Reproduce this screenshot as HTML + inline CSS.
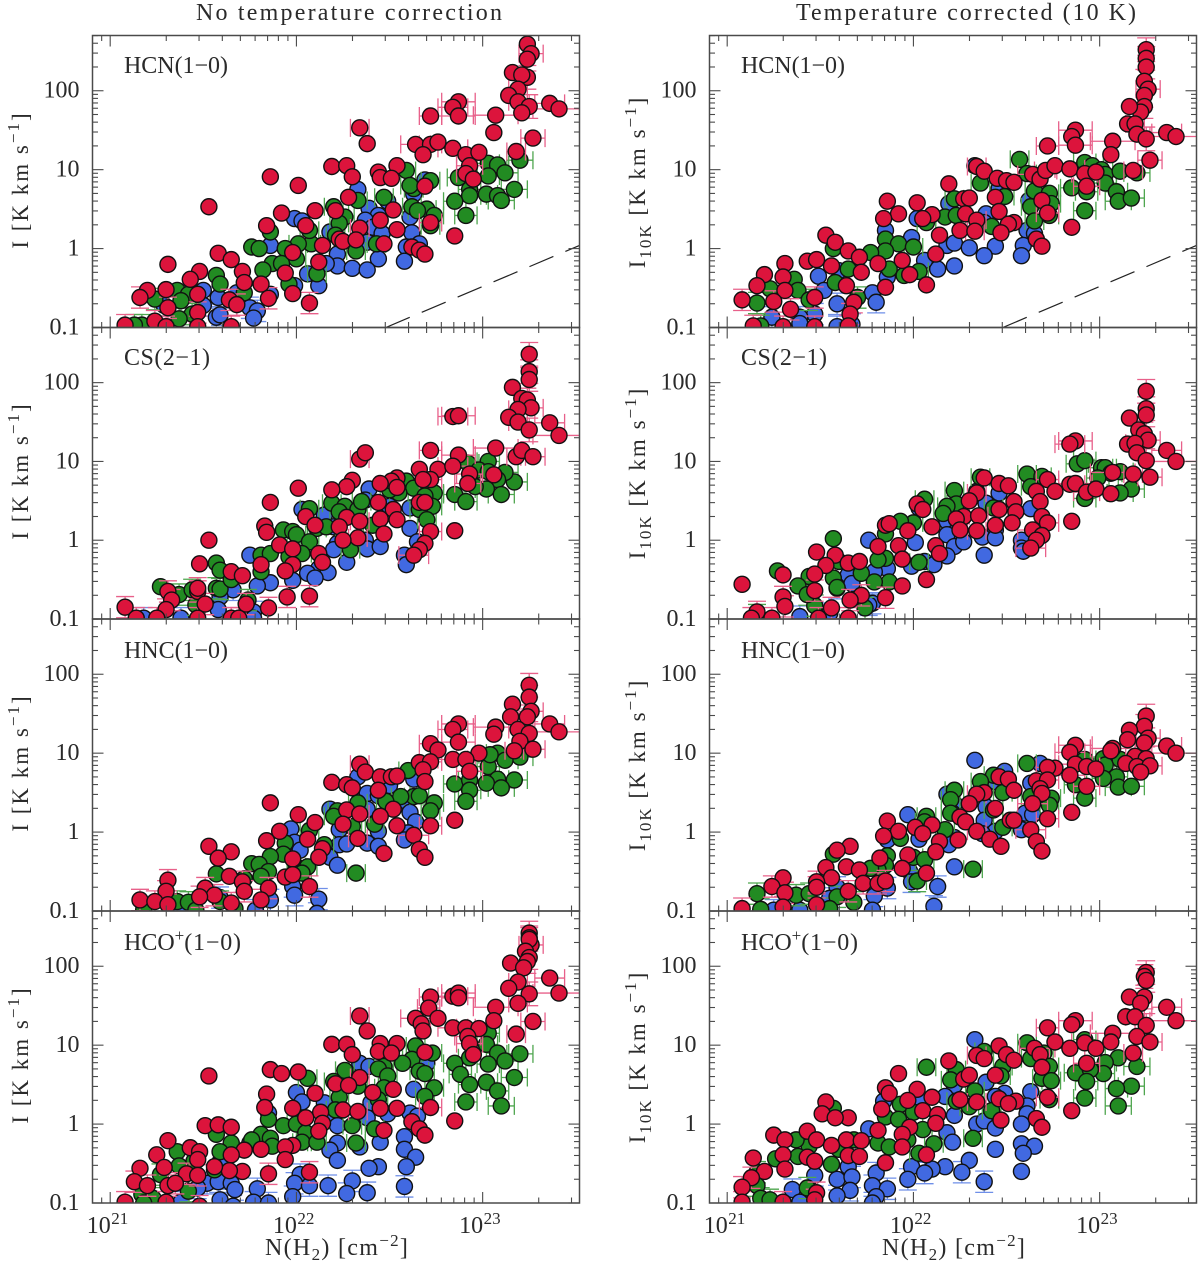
<!DOCTYPE html>
<html lang="en">
<head>
<meta charset="utf-8">
<title>Line intensity versus H2 column density</title>
<style>
html,body{margin:0;padding:0;background:#fff;}
svg{display:block;}
text{font-family:"Liberation Serif",serif;fill:#2a2a2a;}
.title{font-size:24px;}
.plabel{font-size:24px;}
.ylab{font-size:23px;letter-spacing:2px;text-anchor:middle;}
.xlab{font-size:24px;}
.tick{font-size:24px;}
.sup{font-size:17px;}
</style>
</head>
<body>
<svg id="chart" xmlns="http://www.w3.org/2000/svg" width="1200" height="1264" viewBox="0 0 1200 1264">
<rect x="0" y="0" width="1200" height="1264" fill="#fff"/>
<g id="plots"></g>
<text class="title" x="196" y="20" textLength="306" lengthAdjust="spacing">No temperature correction</text>
<text class="title" x="796" y="20" textLength="340" lengthAdjust="spacing">Temperature corrected (10 K)</text>

<text class="plabel" x="124" y="73" textLength="104" lengthAdjust="spacing">HCN(1−0)</text>
<text class="plabel" x="124" y="365" textLength="86" lengthAdjust="spacing">CS(2−1)</text>
<text class="plabel" x="124" y="658" textLength="104" lengthAdjust="spacing">HNC(1−0)</text>
<text class="plabel" x="124" y="950">HCO<tspan class="sup" dy="-9">+</tspan><tspan dy="9" letter-spacing="0.8">(1−0)</tspan></text>
<text class="plabel" x="741" y="73" textLength="104" lengthAdjust="spacing">HCN(1−0)</text>
<text class="plabel" x="741" y="365" textLength="86" lengthAdjust="spacing">CS(2−1)</text>
<text class="plabel" x="741" y="658" textLength="104" lengthAdjust="spacing">HNC(1−0)</text>
<text class="plabel" x="741" y="950">HCO<tspan class="sup" dy="-9">+</tspan><tspan dy="9" letter-spacing="0.8">(1−0)</tspan></text>

<text class="ylab" transform="translate(28,180) rotate(-90)">I [K km s<tspan class="sup" dy="-9">−1</tspan><tspan dy="9">]</tspan></text>
<text class="ylab" transform="translate(28,471) rotate(-90)">I [K km s<tspan class="sup" dy="-9">−1</tspan><tspan dy="9">]</tspan></text>
<text class="ylab" transform="translate(28,763) rotate(-90)">I [K km s<tspan class="sup" dy="-9">−1</tspan><tspan dy="9">]</tspan></text>
<text class="ylab" transform="translate(28,1055) rotate(-90)">I [K km s<tspan class="sup" dy="-9">−1</tspan><tspan dy="9">]</tspan></text>
<text class="ylab" transform="translate(645,182) rotate(-90)">I<tspan class="sup" dy="6">10K</tspan><tspan dy="-6"> [K km s</tspan><tspan class="sup" dy="-9">−1</tspan><tspan dy="9">]</tspan></text>
<text class="ylab" transform="translate(645,473) rotate(-90)">I<tspan class="sup" dy="6">10K</tspan><tspan dy="-6"> [K km s</tspan><tspan class="sup" dy="-9">−1</tspan><tspan dy="9">]</tspan></text>
<text class="ylab" transform="translate(645,765) rotate(-90)">I<tspan class="sup" dy="6">10K</tspan><tspan dy="-6"> [K km s</tspan><tspan class="sup" dy="-9">−1</tspan><tspan dy="9">]</tspan></text>
<text class="ylab" transform="translate(645,1057) rotate(-90)">I<tspan class="sup" dy="6">10K</tspan><tspan dy="-6"> [K km s</tspan><tspan class="sup" dy="-9">−1</tspan><tspan dy="9">]</tspan></text>

<text class="xlab" x="265" y="1255" letter-spacing="1.3">N(H<tspan class="sup" dy="5">2</tspan><tspan dy="-5">) [cm</tspan><tspan class="sup" dy="-9">−2</tspan><tspan dy="9">]</tspan></text>
<text class="xlab" x="882" y="1255" letter-spacing="1.3">N(H<tspan class="sup" dy="5">2</tspan><tspan dy="-5">) [cm</tspan><tspan class="sup" dy="-9">−2</tspan><tspan dy="9">]</tspan></text>
</svg>
<script>
// Every point is [log10 N(H2), log10 I].
const xMajorExponents = [21, 22, 23];
const xTickLabels = ['21', '22', '23'];
const yMajorExponents = [-1, 0, 1, 2];
const yTickLabels = ['0.1', '1', '10', '100'];
const minorFactors = [2, 3, 4, 5, 6, 7, 8, 9];
const referenceLogN = [22.48, 23.52];
const referenceLogI = [-1, 0.04];

// Error estimates (dex): by source for N(H2), by brightness for I
const redSourceN = [23.41, 23.36, 23.27, 23.25, 23.18, 23.16, 23.07, 23.06, 22.87, 22.84, 22.72, 22.64, 22.93, 22.91, 22.34, 22.38, 22.85, 22.76];
const redSourceDx = [0.14, 0.08, 0.065, 0.03, 0.05, 0.04, 0.12, 0.04, 0.09, 0.08, 0.06, 0.08, 0.07, 0.05, 0.05, 0.04, 0.03, 0.04];
const redSourceDy = [0.05, 0.05, 0.05, 0.15, 0.05, 0.05, 0.05, 0.05, 0.05, 0.05, 0.05, 0.05, 0.05, 0.05, 0.05, 0.05, 0.05, 0.05];
const greenBandN = [21, 22, 22.8, 23.1];
const greenBandDx = [0.03, 0.05, 0.06, 0.07];
const intensityBandI = [-1.2, -0.6, -0.35];
const intensityBandDy = [0.135, 0.07, 0.05];

const hcnRawRed = [[23.24,2.59],[23.26,2.47],[23.24,2.40],[23.16,2.23],[23.24,2.17],[23.21,2.20],[23.19,2.02],[23.14,1.94],[23.19,1.86],[23.25,1.80],[23.21,1.72],[23.36,1.84],[23.41,1.77],[22.87,1.86],[22.84,1.79],[22.87,1.68],[22.72,1.68],[23.07,1.69],[23.06,1.47],[23.27,1.40],[23.18,1.23],[22.34,1.53],[22.38,1.33],[22.64,1.32],[22.72,1.32],[22.76,1.35],[22.68,1.19],[22.84,1.27],[22.91,1.19],[22.98,1.22],[22.93,1.05],[22.91,0.95],[22.95,0.88],[22.19,1.04],[22.27,1.05],[22.30,0.91],[22.54,1.05],[22.44,0.97],[22.45,0.90],[22.51,0.89],[22.69,0.79],[21.86,0.91],[22.01,0.80],[21.53,0.53],[22.28,0.65],[21.92,0.45],[22.10,0.48],[22.21,0.48],[22.52,0.49],[22.45,0.36],[22.05,0.29],[21.84,0.29],[22.72,0.33],[22.54,0.24],[22.34,0.26],[22.23,0.12],[22.25,0.09],[22.32,0.11],[22.85,0.16],[22.47,0.06],[22.14,0.04],[21.98,-0.05],[22.62,0.02],[22.66,-0.02],[22.69,-0.07],[22.12,-0.17],[21.58,-0.06],[21.65,-0.14],[21.31,-0.20],[21.48,-0.29],[21.43,-0.39],[21.71,-0.29],[21.94,-0.31],[21.72,-0.43],[21.81,-0.45],[21.30,-0.52],[21.20,-0.53],[21.16,-0.62],[21.47,-0.58],[21.98,-0.57],[21.85,-0.63],[21.64,-0.65],[21.68,-0.71],[21.31,-0.75],[22.07,-0.69],[21.47,-0.81],[21.24,-0.92],[21.08,-0.97],[21.30,-0.99],[21.47,-0.99],[21.65,-0.99]];
const hcnRawGreen = [[23.20,1.12],[23.03,1.08],[23.08,1.06],[23.03,0.92],[23.12,0.96],[22.87,0.90],[22.93,0.75],[22.93,0.67],[23.02,0.69],[23.08,0.67],[23.10,0.61],[23.17,0.75],[22.85,0.60],[22.91,0.42],[22.72,0.86],[22.59,0.99],[22.63,0.76],[22.61,0.80],[22.47,0.65],[22.62,0.53],[22.70,0.50],[22.65,0.48],[22.74,0.42],[22.72,0.29],[22.33,0.61],[22.20,0.53],[22.26,0.40],[22.23,0.32],[22.21,0.17],[22.32,-0.03],[22.43,0.06],[22.08,0.06],[22.00,-0.13],[22.01,0.06],[21.94,0.0],[21.76,0.02],[21.80,0.0],[21.86,0.21],[22.07,0.23],[21.87,-0.19],[21.82,-0.27],[21.92,-0.19],[22.11,-0.32],[21.96,-0.45],[21.57,-0.34],[21.59,-0.45],[21.72,-0.56],[21.36,-0.53],[21.42,-0.58],[21.38,-0.66],[21.24,-0.64],[21.44,-0.83],[21.37,-0.89],[21.17,-0.97],[21.13,-0.97]];
const hcnRawBlue = [[22.69,0.87],[22.33,0.75],[22.63,0.69],[22.49,0.60],[22.39,0.51],[22.44,0.42],[21.99,0.38],[22.03,0.35],[22.61,0.40],[22.37,0.36],[22.41,0.27],[22.46,0.19],[22.62,0.20],[22.66,0.06],[22.18,0.21],[22.38,0.08],[21.86,0.04],[22.22,-0.07],[22.59,0.02],[22.44,-0.13],[22.58,-0.16],[22.22,-0.22],[22.30,-0.25],[22.38,-0.27],[22.16,-0.19],[22.06,-0.32],[22.12,-0.47],[21.99,-0.47],[21.86,-0.58],[21.68,-0.56],[21.50,-0.53],[21.58,-0.62],[21.29,-0.72],[21.50,-0.72],[21.75,-0.75],[21.79,-0.79],[21.57,-0.87],[21.59,-0.84],[21.77,-0.88]];

const csRawRed = [[23.25,2.36],[23.25,2.14],[23.25,2.04],[23.16,1.94],[23.21,1.80],[23.24,1.78],[23.26,1.68],[23.19,1.66],[23.14,1.56],[23.19,1.50],[23.25,1.40],[23.36,1.49],[23.41,1.33],[22.84,1.57],[22.87,1.58],[22.34,1.03],[22.37,1.11],[22.72,1.14],[22.87,1.08],[23.07,1.17],[23.18,1.06],[23.21,1.14],[23.27,1.06],[22.66,0.90],[22.76,0.90],[22.84,0.94],[22.93,0.84],[23.06,0.83],[22.92,0.72],[22.72,0.77],[22.68,0.77],[22.54,0.79],[22.51,0.75],[22.45,0.72],[22.54,0.67],[22.30,0.76],[22.27,0.68],[22.19,0.64],[22.01,0.66],[21.86,0.48],[22.44,0.48],[22.66,0.48],[22.69,0.48],[22.52,0.39],[22.05,0.30],[22.27,0.29],[22.45,0.27],[22.54,0.26],[22.34,0.24],[22.10,0.19],[22.23,0.17],[21.83,0.18],[21.84,0.10],[22.72,0.11],[22.85,0.12],[22.47,0.08],[22.33,0.03],[22.25,0.0],[21.53,0.0],[21.91,-0.06],[21.98,-0.11],[22.69,-0.04],[22.66,-0.12],[22.63,-0.19],[22.12,-0.17],[22.14,-0.28],[21.81,-0.31],[21.98,-0.31],[21.48,-0.30],[21.94,-0.39],[21.65,-0.40],[21.71,-0.45],[21.31,-0.65],[21.47,-0.65],[21.47,-0.61],[21.95,-0.72],[22.07,-0.71],[21.33,-0.76],[21.51,-0.81],[21.73,-0.81],[21.85,-0.86],[21.08,-0.85],[21.30,-0.88],[21.14,-0.99],[21.25,-0.99],[21.47,-0.99],[21.65,-0.99],[21.69,-0.99]];
const csRawGreen = [[23.17,0.74],[23.12,0.86],[23.03,1.0],[22.92,0.98],[22.98,0.89],[23.03,0.87],[23.08,0.77],[22.85,0.58],[22.91,0.49],[23.02,0.65],[23.10,0.58],[22.96,0.68],[22.59,0.75],[22.63,0.66],[22.74,0.60],[22.69,0.56],[22.55,0.60],[22.50,0.64],[22.73,0.43],[22.66,0.39],[22.70,0.26],[22.07,0.40],[22.19,0.47],[22.26,0.43],[22.23,0.36],[22.33,0.39],[22.35,0.49],[22.41,0.19],[22.11,0.15],[22.16,0.17],[21.93,0.13],[21.98,0.11],[22.00,0.07],[22.07,-0.02],[22.29,-0.12],[21.81,-0.19],[21.86,-0.17],[21.96,-0.21],[22.03,-0.17],[21.57,-0.29],[21.59,-0.38],[21.81,-0.40],[21.27,-0.59],[21.37,-0.69],[21.44,-0.63],[21.57,-0.61],[21.59,-0.62],[21.65,-0.50],[21.46,-0.82],[21.74,-0.76]];
const csRawBlue = [[22.39,0.65],[22.50,0.43],[22.03,0.39],[22.15,0.32],[22.61,0.41],[22.37,0.51],[22.20,0.17],[22.61,0.15],[22.65,-0.02],[22.37,0.0],[22.22,-0.04],[22.20,-0.12],[22.38,-0.11],[22.45,-0.08],[21.75,-0.19],[22.27,-0.28],[22.58,-0.19],[22.59,-0.31],[22.12,-0.36],[22.17,-0.41],[22.06,-0.42],[22.10,-0.48],[21.98,-0.51],[21.86,-0.54],[21.79,-0.58],[21.66,-0.63],[21.59,-0.72],[21.58,-0.88],[21.77,-0.91],[21.77,-0.99],[21.38,-0.99],[21.18,-0.99]];

const hncRawRed = [[23.25,1.86],[23.25,1.71],[23.16,1.62],[23.26,1.53],[23.24,1.46],[23.15,1.46],[22.87,1.37],[22.84,1.30],[23.07,1.33],[23.06,1.24],[23.36,1.37],[23.41,1.27],[23.19,1.30],[23.25,1.25],[23.20,1.15],[22.72,1.12],[22.76,1.04],[22.87,1.14],[23.27,1.05],[23.17,1.03],[22.98,1.0],[22.84,0.92],[22.91,0.92],[22.93,0.77],[22.66,0.88],[22.72,0.89],[22.68,0.79],[22.69,0.64],[22.34,0.86],[22.37,0.76],[22.45,0.70],[22.51,0.70],[22.54,0.71],[22.19,0.63],[22.27,0.60],[22.30,0.56],[22.44,0.53],[21.86,0.37],[22.52,0.29],[22.27,0.28],[22.34,0.23],[22.01,0.22],[22.45,0.20],[22.10,0.12],[22.25,0.10],[22.85,0.15],[22.54,0.08],[22.72,0.08],[21.91,0.01],[22.63,-0.04],[22.33,-0.08],[22.06,-0.09],[21.84,-0.11],[22.14,-0.21],[21.53,-0.18],[21.65,-0.25],[21.58,-0.33],[22.66,-0.22],[22.69,-0.32],[22.47,-0.27],[22.12,-0.32],[21.98,-0.34],[21.64,-0.56],[21.71,-0.63],[21.94,-0.57],[21.98,-0.54],[21.31,-0.61],[21.30,-0.75],[21.51,-0.71],[22.07,-0.69],[21.85,-0.71],[21.72,-0.75],[21.56,-0.80],[21.48,-0.82],[21.16,-0.86],[21.24,-0.88],[21.65,-0.90],[21.81,-0.86],[21.31,-0.92]];
const hncRawGreen = [[23.17,0.66],[23.20,0.95],[23.08,1.0],[23.12,0.91],[23.03,0.83],[23.04,0.98],[23.08,0.67],[23.02,0.62],[23.10,0.56],[22.85,0.61],[22.93,0.66],[22.93,0.53],[22.91,0.39],[22.60,0.78],[22.63,0.45],[22.66,0.46],[22.74,0.37],[22.72,0.27],[22.56,0.45],[22.48,0.39],[22.33,0.37],[22.22,0.27],[22.20,0.20],[22.42,0.10],[22.30,0.07],[22.07,0.02],[21.94,-0.14],[22.15,-0.16],[21.93,-0.28],[21.86,-0.31],[21.76,-0.40],[21.80,-0.41],[22.00,-0.44],[22.06,-0.44],[21.85,-0.50],[21.81,-0.56],[22.03,-0.52],[22.32,-0.52],[21.57,-0.53],[21.72,-0.59],[21.36,-0.88],[21.42,-0.89],[21.59,-0.88],[21.18,-0.98],[21.46,-0.99],[21.67,-0.97]];
const hncRawBlue = [[22.33,0.70],[22.63,0.67],[22.50,0.59],[22.38,0.49],[22.44,0.46],[22.59,0.39],[22.38,0.29],[22.18,0.29],[22.61,0.25],[22.64,0.13],[21.97,0.04],[22.23,0.03],[22.44,0.01],[21.99,-0.13],[22.02,-0.23],[22.23,-0.16],[22.27,-0.15],[22.60,-0.01],[22.38,-0.14],[22.44,-0.18],[22.58,-0.10],[22.18,-0.32],[22.22,-0.42],[21.98,-0.69],[21.99,-0.80],[22.12,-0.85],[21.86,-0.86],[21.59,-0.83],[21.38,-0.98],[21.78,-0.99],[22.11,-1.03]];

const hcoRawRed = [[23.25,2.42],[23.25,2.36],[23.26,2.27],[23.25,2.34],[23.23,2.19],[23.25,2.11],[23.15,2.04],[23.24,2.06],[23.22,1.98],[23.36,1.85],[23.19,1.80],[23.14,1.72],[23.25,1.65],[23.41,1.66],[23.19,1.53],[22.84,1.62],[22.87,1.66],[22.87,1.60],[22.72,1.61],[22.71,1.47],[23.07,1.48],[22.64,1.34],[22.67,1.27],[22.76,1.34],[23.06,1.31],[23.27,1.30],[22.34,1.37],[22.38,1.18],[22.68,1.18],[22.84,1.22],[22.91,1.22],[22.98,1.21],[23.18,1.14],[22.92,1.11],[22.93,1.02],[22.95,0.88],[22.19,1.01],[22.27,1.01],[22.30,0.88],[22.45,1.02],[22.54,1.02],[22.44,0.92],[22.51,0.90],[22.69,0.91],[21.86,0.69],[21.92,0.64],[22.01,0.66],[21.53,0.61],[22.34,0.59],[22.21,0.51],[22.28,0.49],[22.52,0.44],[22.41,0.40],[22.10,0.39],[21.84,0.38],[21.83,0.21],[22.72,0.21],[21.98,0.20],[22.13,0.15],[22.25,0.18],[22.33,0.16],[22.45,0.20],[22.54,0.20],[22.05,0.08],[22.14,0.01],[22.85,0.04],[22.62,0.03],[21.51,-0.02],[21.58,-0.01],[21.65,-0.04],[22.12,-0.09],[22.47,-0.08],[22.66,-0.06],[22.69,-0.14],[21.31,-0.21],[21.43,-0.30],[21.48,-0.35],[21.98,-0.27],[21.94,-0.29],[21.72,-0.33],[21.81,-0.32],[21.65,-0.39],[21.25,-0.39],[21.47,-0.45],[21.94,-0.45],[21.29,-0.55],[21.16,-0.56],[21.71,-0.60],[21.64,-0.59],[21.56,-0.54],[21.41,-0.63],[21.47,-0.65],[21.85,-0.63],[22.07,-0.61],[21.13,-0.73],[21.20,-0.78],[21.31,-0.78],[21.35,-0.75],[21.08,-0.99],[21.30,-0.99],[21.48,-1.04]];
const hcoRawGreen = [[23.20,0.89],[23.03,1.15],[23.02,1.01],[23.08,0.90],[23.12,0.80],[23.03,0.76],[22.85,0.77],[22.93,0.84],[22.88,0.63],[23.17,0.59],[23.02,0.53],[22.93,0.50],[23.08,0.42],[22.91,0.28],[23.10,0.23],[22.73,0.90],[22.64,0.99],[22.62,0.82],[22.57,0.77],[22.66,0.67],[22.69,0.64],[22.74,0.46],[22.69,0.35],[22.47,0.73],[22.44,0.70],[22.49,0.61],[22.47,0.46],[22.44,0.31],[22.26,0.68],[22.06,0.58],[22.20,0.54],[22.23,0.34],[22.33,0.48],[22.21,0.18],[22.30,-0.02],[22.42,-0.06],[21.85,0.06],[21.93,-0.02],[22.00,0.0],[21.81,-0.13],[21.86,-0.18],[22.05,-0.11],[21.76,-0.20],[22.03,-0.23],[22.11,-0.23],[22.32,-0.24],[21.87,-0.28],[21.57,-0.13],[21.65,-0.24],[21.59,-0.35],[21.36,-0.35],[21.45,-0.47],[21.37,-0.53],[21.56,-0.58],[21.27,-0.64],[21.17,-0.89],[21.23,-0.94],[21.42,-0.85],[21.18,-1.0]];
const hcoRawBlue = [[22.34,0.77],[22.39,0.73],[22.70,0.77],[22.63,0.44],[22.00,0.40],[22.03,0.28],[22.15,0.27],[22.40,0.27],[21.85,0.14],[22.18,0.10],[22.61,0.14],[22.65,0.10],[22.49,0.13],[22.38,0.08],[22.22,-0.02],[22.22,-0.24],[21.75,-0.24],[22.45,-0.23],[22.58,-0.16],[22.58,-0.32],[22.34,-0.29],[22.18,-0.33],[22.22,-0.46],[22.64,-0.42],[22.59,-0.54],[22.44,-0.54],[22.39,-0.56],[21.59,-0.48],[22.02,-0.64],[21.99,-0.75],[22.07,-0.78],[22.17,-0.78],[22.30,-0.72],[21.52,-0.75],[21.58,-0.73],[21.65,-0.75],[21.47,-0.81],[21.67,-0.83],[21.79,-0.82],[22.58,-0.79],[22.27,-0.88],[22.38,-0.87],[21.98,-0.92],[21.59,-0.96],[21.77,-0.99],[21.85,-1.0],[21.38,-0.99],[21.66,-1.04]];

const hcnCorrRed = [[23.25,2.52],[23.25,2.41],[23.25,2.30],[23.24,2.12],[23.26,2.02],[23.24,1.94],[23.24,1.80],[23.22,1.73],[23.16,1.80],[23.15,1.58],[23.19,1.58],[23.20,1.45],[23.25,1.39],[23.36,1.47],[23.41,1.42],[22.87,1.50],[22.85,1.42],[22.87,1.31],[22.72,1.30],[23.07,1.36],[23.06,1.19],[23.27,1.12],[23.18,0.99],[22.34,1.04],[22.38,0.98],[22.45,0.89],[22.50,0.86],[22.54,0.84],[22.64,0.94],[22.68,0.88],[22.71,0.99],[22.76,1.05],[22.84,1.01],[22.92,0.95],[22.93,0.79],[22.98,0.97],[22.19,0.82],[22.27,0.63],[22.30,0.64],[22.44,0.65],[22.46,0.47],[21.86,0.60],[22.02,0.58],[21.92,0.44],[22.10,0.43],[22.05,0.38],[21.84,0.38],[22.28,0.44],[22.34,0.36],[22.69,0.61],[22.72,0.45],[22.54,0.33],[22.51,0.31],[22.25,0.23],[22.33,0.22],[22.47,0.20],[22.14,0.17],[22.85,0.27],[22.66,0.12],[22.69,0.03],[21.53,0.17],[21.58,0.08],[21.65,-0.03],[22.12,-0.07],[21.71,-0.11],[21.94,-0.15],[21.81,-0.19],[21.43,-0.16],[21.48,-0.14],[21.56,-0.22],[21.31,-0.19],[21.72,-0.30],[21.98,-0.33],[21.30,-0.36],[21.20,-0.33],[21.16,-0.47],[21.64,-0.47],[22.07,-0.46],[21.85,-0.49],[21.47,-0.62],[21.31,-0.53],[21.68,-0.68],[21.25,-0.67],[21.08,-0.65],[21.34,-0.77],[21.66,-0.83],[21.65,-0.98],[21.47,-0.99],[21.30,-0.99],[21.14,-0.98]];
const hcnCorrGreen = [[22.57,1.13],[22.92,1.09],[22.96,1.05],[23.01,1.0],[23.03,0.94],[23.11,0.98],[23.20,0.96],[22.85,0.77],[22.93,0.72],[23.03,0.83],[23.09,0.72],[23.10,0.60],[23.17,0.64],[22.92,0.48],[22.36,0.83],[22.61,0.95],[22.65,0.73],[22.73,0.70],[22.49,0.66],[22.74,0.57],[22.63,0.53],[22.73,0.42],[22.65,0.35],[22.22,0.63],[22.17,0.40],[22.23,0.42],[22.42,0.28],[22.07,0.33],[21.57,0.0],[21.85,0.12],[21.92,0.06],[21.85,-0.03],[22.0,0.02],[21.77,-0.05],[21.87,-0.26],[22.03,-0.29],[21.95,-0.34],[21.65,-0.26],[21.58,-0.43],[21.36,-0.39],[21.38,-0.53],[21.23,-0.51],[21.44,-0.65],[21.16,-0.69],[21.70,-0.62],[21.18,-0.98]];
const hcnCorrBlue = [[22.33,1.05],[22.46,0.76],[22.62,0.61],[22.19,0.57],[22.39,0.44],[22.02,0.38],[22.38,0.33],[21.85,0.23],[22.61,0.23],[22.65,0.19],[21.99,0.14],[22.59,0.04],[22.18,0.04],[22.22,0.07],[22.44,0.03],[22.30,0.01],[22.38,-0.09],[22.58,-0.09],[22.22,-0.22],[22.13,-0.26],[22.06,-0.15],[21.60,-0.28],[21.49,-0.35],[21.86,-0.36],[21.52,-0.53],[21.78,-0.56],[21.59,-0.70],[21.80,-0.68],[21.47,-0.83],[21.39,-0.87],[21.24,-0.87],[21.39,-0.95],[21.59,-0.99],[21.67,-0.96]];

const csCorrRed = [[23.25,1.89],[23.25,1.67],[23.25,1.59],[23.16,1.55],[23.21,1.40],[23.24,1.35],[23.26,1.27],[22.87,1.26],[22.84,1.22],[23.15,1.22],[23.19,1.23],[23.20,1.11],[23.36,1.14],[23.41,1.0],[23.25,1.01],[23.07,0.86],[23.18,0.84],[23.27,0.80],[22.38,0.79],[22.46,0.72],[22.51,0.69],[22.72,0.77],[22.84,0.71],[22.87,0.72],[22.66,0.62],[22.76,0.62],[22.93,0.61],[22.98,0.65],[23.06,0.59],[22.34,0.60],[22.30,0.50],[22.54,0.49],[22.68,0.49],[22.02,0.46],[22.05,0.39],[22.46,0.39],[22.55,0.36],[22.27,0.30],[22.35,0.31],[22.23,0.27],[22.69,0.30],[22.72,0.22],[22.53,0.22],[22.44,0.19],[21.85,0.19],[21.87,0.21],[22.10,0.17],[22.25,0.13],[22.34,0.12],[22.85,0.24],[21.97,0.12],[22.64,0.13],[22.69,0.06],[22.66,0.0],[21.81,-0.08],[21.92,-0.07],[22.12,-0.07],[22.63,-0.10],[22.14,-0.17],[21.48,-0.15],[21.58,-0.19],[21.94,-0.24],[21.53,-0.32],[21.65,-0.29],[21.71,-0.27],[21.30,-0.44],[21.47,-0.43],[22.07,-0.50],[21.08,-0.56],[21.94,-0.58],[21.47,-0.64],[21.72,-0.70],[21.30,-0.72],[21.85,-0.73],[21.66,-0.76],[21.31,-0.84],[21.56,-0.86],[21.16,-0.91],[21.49,-0.99],[21.65,-0.99],[21.24,-0.99],[21.13,-0.99]];
const csCorrGreen = [[22.88,0.97],[22.92,1.01],[23.01,0.92],[23.03,0.92],[23.06,0.85],[23.11,0.87],[22.61,0.84],[22.69,0.81],[22.36,0.80],[22.63,0.68],[22.22,0.63],[22.06,0.52],[22.23,0.46],[22.43,0.41],[22.18,0.43],[22.16,0.34],[23.17,0.65],[23.11,0.60],[22.99,0.79],[22.92,0.53],[22.00,0.22],[21.93,0.24],[21.85,0.08],[21.57,0.02],[21.85,-0.23],[21.81,-0.25],[21.60,-0.27],[22.03,-0.28],[21.72,-0.42],[21.27,-0.39],[21.44,-0.46],[21.57,-0.48],[21.38,-0.58],[21.87,-0.53],[21.79,-0.53],[21.59,-0.60],[21.47,-0.83],[21.74,-0.86],[21.16,-0.95],[21.43,-0.69]];
const csCorrBlue = [[22.34,0.62],[22.46,0.60],[22.03,0.41],[22.39,0.47],[22.63,0.40],[22.18,0.24],[22.22,0.09],[22.44,0.13],[21.76,0.0],[22.01,-0.03],[22.18,0.07],[22.37,0.04],[22.44,0.03],[22.58,0.0],[22.22,-0.08],[22.27,-0.02],[22.58,-0.10],[22.59,-0.14],[22.38,-0.19],[22.18,-0.20],[22.06,-0.27],[22.11,-0.31],[21.99,-0.33],[21.86,-0.36],[21.79,-0.40],[21.65,-0.44],[21.67,-0.55],[21.59,-0.61],[21.78,-0.80],[21.76,-0.82],[21.39,-0.97],[21.55,-0.93]];

const hncCorrRed = [[23.25,1.47],[23.24,1.34],[23.26,1.19],[23.16,1.29],[23.15,1.17],[23.24,1.13],[23.07,1.06],[23.06,1.03],[22.87,1.10],[22.84,1.01],[23.36,1.09],[23.41,1.0],[23.19,0.96],[23.25,0.93],[23.14,0.87],[23.20,0.83],[23.27,0.84],[23.22,0.76],[22.87,0.86],[22.93,0.83],[22.98,0.80],[22.84,0.72],[22.76,0.81],[22.72,0.82],[22.93,0.58],[22.46,0.70],[22.51,0.67],[22.54,0.53],[22.66,0.65],[22.72,0.66],[22.68,0.55],[22.69,0.49],[22.38,0.50],[22.34,0.48],[22.64,0.36],[22.30,0.36],[22.44,0.30],[22.25,0.19],[22.28,0.13],[22.85,0.25],[21.86,0.14],[22.72,0.17],[22.52,0.15],[22.54,0.15],[22.10,0.09],[22.01,0.06],[21.92,0.01],[22.34,0.01],[21.84,-0.05],[22.05,-0.02],[22.63,0.03],[21.66,-0.18],[22.14,-0.12],[22.24,-0.10],[22.41,-0.09],[22.47,-0.18],[22.66,-0.12],[22.69,-0.24],[21.59,-0.23],[22.12,-0.25],[21.97,-0.29],[21.82,-0.33],[21.53,-0.45],[21.64,-0.44],[21.71,-0.48],[21.94,-0.46],[22.07,-0.52],[21.56,-0.58],[21.30,-0.58],[21.24,-0.69],[21.48,-0.63],[21.48,-0.70],[21.73,-0.65],[21.81,-0.65],[21.85,-0.62],[21.65,-0.75],[21.31,-0.77],[21.48,-0.92],[21.30,-0.95],[21.08,-0.97]];
const hncCorrGreen = [[22.61,0.87],[22.92,0.92],[23.02,0.93],[23.03,0.85],[23.11,0.92],[23.09,0.70],[23.02,0.68],[23.10,0.57],[23.17,0.58],[22.87,0.60],[22.92,0.43],[22.43,0.72],[22.36,0.64],[22.22,0.53],[22.20,0.41],[22.48,0.50],[22.63,0.45],[22.74,0.43],[22.73,0.34],[22.20,0.24],[22.43,0.28],[22.07,0.20],[22.06,0.13],[22.17,0.03],[22.48,0.06],[21.93,-0.08],[21.57,-0.28],[21.86,-0.30],[21.85,-0.42],[21.81,-0.48],[22.0,-0.32],[22.06,-0.35],[21.77,-0.46],[22.32,-0.47],[22.02,-0.62],[21.16,-0.78],[21.37,-0.80],[21.44,-0.78],[21.59,-0.82],[21.68,-0.89],[21.18,-0.98],[21.55,-0.97]];
const hncCorrBlue = [[22.33,0.91],[22.49,0.77],[22.68,0.87],[22.63,0.62],[22.18,0.48],[22.44,0.64],[22.22,0.36],[22.39,0.32],[21.97,0.22],[22.21,0.24],[22.60,0.24],[22.64,0.22],[22.38,0.15],[22.44,0.01],[22.58,0.03],[22.37,-0.02],[22.03,-0.09],[22.22,-0.07],[21.86,-0.10],[22.19,-0.16],[22.22,-0.44],[21.98,-0.50],[21.99,-0.63],[22.13,-0.69],[21.59,-0.70],[21.86,-0.71],[21.55,-0.84],[21.79,-0.81],[21.78,-0.99],[22.11,-0.94],[21.39,-0.99],[21.25,-0.99]];

const hcoCorrRed = [[23.25,1.92],[23.24,1.87],[23.25,1.82],[23.24,1.61],[23.16,1.61],[23.22,1.53],[23.36,1.48],[23.14,1.36],[23.19,1.36],[23.25,1.25],[23.41,1.31],[23.20,1.11],[22.87,1.31],[22.85,1.26],[22.72,1.22],[23.07,1.15],[23.06,1.04],[22.76,1.04],[22.84,0.96],[22.92,1.03],[22.98,0.96],[22.93,0.77],[23.27,1.04],[23.18,0.90],[22.46,0.99],[22.50,0.88],[22.54,0.81],[22.34,0.87],[22.38,0.83],[22.65,0.96],[22.68,0.88],[22.69,0.72],[22.19,0.80],[22.44,0.62],[21.92,0.64],[22.27,0.57],[22.30,0.62],[21.85,0.46],[21.87,0.39],[22.02,0.44],[22.10,0.34],[22.72,0.34],[22.25,0.31],[22.46,0.32],[22.34,0.28],[21.97,0.30],[22.55,0.29],[22.51,0.26],[21.83,0.19],[21.53,0.28],[22.05,0.17],[22.13,0.12],[22.85,0.17],[21.51,0.13],[21.65,0.08],[21.58,0.08],[22.47,0.05],[22.12,0.01],[22.66,0.07],[22.69,-0.04],[21.98,-0.04],[21.94,-0.13],[21.25,-0.14],[21.43,-0.09],[21.81,-0.08],[21.31,-0.20],[21.48,-0.20],[21.64,-0.20],[21.72,-0.21],[21.56,-0.27],[21.94,-0.29],[21.30,-0.39],[21.65,-0.40],[21.71,-0.41],[22.07,-0.39],[21.14,-0.43],[21.43,-0.42],[21.47,-0.47],[21.31,-0.57],[21.85,-0.49],[21.20,-0.60],[21.13,-0.68],[21.08,-0.80],[21.48,-0.87],[21.47,-0.96],[21.08,-0.99],[21.30,-0.99]];
const hcoCorrGreen = [[22.61,1.03],[22.92,1.07],[23.10,0.84],[23.03,0.78],[23.20,0.73],[22.87,0.65],[23.02,0.64],[22.95,0.69],[22.93,0.54],[23.17,0.48],[23.09,0.45],[22.92,0.33],[23.10,0.23],[22.63,0.83],[22.70,0.90],[22.73,0.73],[22.69,0.58],[22.74,0.55],[22.73,0.31],[22.48,0.73],[22.47,0.61],[22.38,0.92],[22.07,0.72],[22.23,0.69],[22.20,0.56],[22.33,0.42],[22.23,0.29],[22.42,0.17],[22.30,0.22],[21.57,0.20],[21.93,0.25],[22.0,0.15],[21.85,0.09],[21.92,0.06],[22.05,-0.07],[21.81,-0.24],[21.87,-0.29],[22.11,-0.25],[22.03,-0.37],[22.32,-0.18],[21.97,-0.20],[21.68,-0.20],[21.60,-0.32],[21.44,-0.28],[21.38,-0.41],[21.26,-0.44],[21.37,-0.20],[21.56,-0.51],[21.16,-0.61],[21.16,-0.78],[21.43,-0.81],[21.18,-0.94],[21.23,-0.96]];
const hcoCorrBlue = [[22.33,1.07],[22.39,0.53],[22.63,0.41],[22.22,0.49],[22.17,0.35],[22.03,0.31],[22.49,0.39],[22.44,0.35],[21.84,0.29],[22.61,0.23],[22.61,0.13],[22.22,0.11],[22.58,0.0],[22.34,0.0],[22.38,0.04],[22.44,-0.05],[21.76,-0.06],[22.18,-0.11],[22.21,-0.23],[22.58,-0.25],[22.65,-0.28],[22.59,-0.37],[22.44,-0.32],[22.30,-0.46],[22.17,-0.54],[21.99,-0.54],[22.10,-0.57],[22.06,-0.62],[22.26,-0.61],[22.58,-0.60],[21.65,-0.54],[21.47,-0.65],[21.80,-0.62],[21.97,-0.70],[22.38,-0.73],[21.59,-0.70],[21.67,-0.67],[21.78,-0.78],[21.86,-0.82],[21.66,-0.84],[21.35,-0.83],[21.59,-0.91],[21.80,-0.92],[21.39,-0.99],[21.78,-1.0]];

// Layout (not data)
const SVGNS = 'http://www.w3.org/2000/svg';
const X_MIN = 20.905, X_MAX = 23.52, Y_MIN = -1, Y_MAX = 2.7;
const PANEL_W = 487;
const COLUMN_LEFT = [92.5, 709.5];
const ROW_EDGES = [35.5, 327.5, 619, 911, 1203];
const RADIUS = 8;
const CAP = 9;
const AXIS_COLOR = '#4a4a4a';
const COLORS = { blue: '#4169e1', green: '#228b22', red: '#dc143c' };
const ERR_COLORS = { blue: '#6f8fe8', green: '#4fa64f', red: '#e8608a' };

const panels = [
  { key: 'hcn', col: 0, row: 0, blue: hcnRawBlue, green: hcnRawGreen, red: hcnRawRed, line: true },
  { key: 'cs', col: 0, row: 1, blue: csRawBlue, green: csRawGreen, red: csRawRed, line: false },
  { key: 'hnc', col: 0, row: 2, blue: hncRawBlue, green: hncRawGreen, red: hncRawRed, line: false },
  { key: 'hco', col: 0, row: 3, blue: hcoRawBlue, green: hcoRawGreen, red: hcoRawRed, line: false },
  { key: 'hcn-corrected', col: 1, row: 0, blue: hcnCorrBlue, green: hcnCorrGreen, red: hcnCorrRed, line: true },
  { key: 'cs-corrected', col: 1, row: 1, blue: csCorrBlue, green: csCorrGreen, red: csCorrRed, line: false },
  { key: 'hnc-corrected', col: 1, row: 2, blue: hncCorrBlue, green: hncCorrGreen, red: hncCorrRed, line: false },
  { key: 'hco-corrected', col: 1, row: 3, blue: hcoCorrBlue, green: hcoCorrGreen, red: hcoCorrRed, line: false }
];

const plots = document.getElementById('plots');

function make(tag, attrs, parent) {
  const el = document.createElementNS(SVGNS, tag);
  for (const k in attrs) el.setAttribute(k, attrs[k]);
  parent.appendChild(el);
  return el;
}

function intensityError(logI) {
  let dy = intensityBandDy[0];
  for (let i = 0; i < intensityBandI.length; i++) {
    if (logI >= intensityBandI[i]) dy = intensityBandDy[i];
  }
  return dy;
}

function redError(p) {
  let best = -1, bestD = 0.016;
  for (let i = 0; i < redSourceN.length; i++) {
    const d = Math.abs(redSourceN[i] - p[0]);
    if (d < bestD) { bestD = d; best = i; }
  }
  const dyBand = intensityError(p[1]);
  if (best < 0) return [0.03, dyBand];
  return [redSourceDx[best], Math.max(redSourceDy[best], dyBand)];
}

function greenError(p) {
  let dx = greenBandDx[0];
  for (let i = 0; i < greenBandN.length; i++) {
    if (p[0] >= greenBandN[i]) dx = greenBandDx[i];
  }
  return [dx, intensityError(p[1])];
}

function blueError(p) {
  return [0.03, intensityError(p[1])];
}

function drawErrorBar(g, sx, sy, p, color, dx, dy) {
  let d = '';
  if (dx > 0.045) {
    d += 'M' + sx(p[0] - dx) + ' ' + sy(p[1]) + 'H' + sx(p[0] + dx) +
         'M' + sx(p[0] - dx) + ' ' + (sy(p[1]) - CAP) + 'v' + (2 * CAP) +
         'M' + sx(p[0] + dx) + ' ' + (sy(p[1]) - CAP) + 'v' + (2 * CAP);
  }
  if (dy > 0.1) {
    d += 'M' + sx(p[0]) + ' ' + sy(p[1] - dy) + 'V' + sy(p[1] + dy) +
         'M' + (sx(p[0]) - CAP) + ' ' + sy(p[1] - dy) + 'h' + (2 * CAP) +
         'M' + (sx(p[0]) - CAP) + ' ' + sy(p[1] + dy) + 'h' + (2 * CAP);
  }
  if (!d) return;
  const path = make('path', { d: d, fill: 'none', stroke: color, 'stroke-width': 1.3 }, g);
  
  
}

function drawSeries(g, sx, sy, points, seriesName, errorOf) {
  const layer = make('g', {}, g);
  
  
  points.forEach(function (p) {
    const e = errorOf(p);
    drawErrorBar(layer, sx, sy, p, ERR_COLORS[seriesName], e[0], e[1]);
  });
  points.forEach(function (p) {
    const c = make('circle', {
      cx: sx(p[0]), cy: sy(p[1]), r: RADIUS,
      fill: COLORS[seriesName], stroke: '#111', 'stroke-width': 1.4
    }, layer);
    
    
  });
}

function tickLine(parent, x1, y1, x2, y2, name) {
  const t = make('line', { x1: x1, y1: y1, x2: x2, y2: y2, stroke: AXIS_COLOR, 'stroke-width': 1.1 }, parent);
  
  
}

function drawPanel(panel, index) {
  const left = COLUMN_LEFT[panel.col];
  const top = ROW_EDGES[panel.row];
  const bottom = ROW_EDGES[panel.row + 1];
  const height = bottom - top;
  const right = left + PANEL_W;
  const sx = function (v) { return left + (v - X_MIN) / (X_MAX - X_MIN) * PANEL_W; };
  const sy = function (v) { return bottom - (v - Y_MIN) / (Y_MAX - Y_MIN) * height; };

  const g = make('g', {}, plots);
  
  

  const clip = make('clipPath', { id: 'clip' + index }, g);
  make('rect', { x: left, y: top, width: PANEL_W, height: height }, clip);

  const marks = make('g', { 'clip-path': 'url(#clip' + index + ')' }, g);
  
  

  if (panel.line) {
    const ref = make('line', {
      x1: sx(referenceLogN[0]), y1: sy(referenceLogI[0]),
      x2: sx(referenceLogN[1]), y2: sy(referenceLogI[1]),
      stroke: '#222', 'stroke-width': 1.2, 'stroke-dasharray': '26 13'
    }, marks);
    
    
  }

  drawSeries(marks, sx, sy, panel.blue, 'blue', blueError);
  drawSeries(marks, sx, sy, panel.green, 'green', greenError);
  drawSeries(marks, sx, sy, panel.red, 'red', redError);

  const axes = make('g', {}, g);
  
  

  const frame = make('rect', { x: left, y: top, width: PANEL_W, height: height, fill: 'none', stroke: AXIS_COLOR, 'stroke-width': 1.5 }, axes);
  
  

  xMajorExponents.forEach(function (e, i) {
    const x = sx(e);
    tickLine(axes, x, bottom, x, bottom - 11, 'x-major-tick');
    tickLine(axes, x, top, x, top + 11, 'x-major-tick');
    if (panel.row === 3) {
      const label = make('text', { x: x + 0.5, y: 1233, 'text-anchor': 'end', class: 'tick' }, axes);
      label.textContent = '10';
      
      
      const sup = make('text', { x: x + 1, y: 1224, class: 'sup' }, axes);
      sup.textContent = xTickLabels[i];
      
      
    }
  });
  [20].concat(xMajorExponents).forEach(function (e) {
    minorFactors.forEach(function (f) {
      const v = e + Math.log10(f);
      if (v <= X_MIN || v >= X_MAX) return;
      const x = sx(v);
      tickLine(axes, x, bottom, x, bottom - 5.5, 'x-minor-tick');
      tickLine(axes, x, top, x, top + 5.5, 'x-minor-tick');
    });
  });

  yMajorExponents.forEach(function (e, i) {
    const y = sy(e);
    tickLine(axes, left, y, left + 11, y, 'y-major-tick');
    tickLine(axes, right, y, right - 11, y, 'y-major-tick');
    const label = make('text', { x: left - 13, y: y + 7, 'text-anchor': 'end', class: 'tick' }, axes);
    label.textContent = yTickLabels[i];
    
    
    minorFactors.forEach(function (f) {
      const v = e + Math.log10(f);
      if (v >= Y_MAX) return;
      const ym = sy(v);
      tickLine(axes, left, ym, left + 5.5, ym, 'y-minor-tick');
      tickLine(axes, right, ym, right - 5.5, ym, 'y-minor-tick');
    });
  });
}

panels.forEach(drawPanel);
</script>
</body>
</html>
